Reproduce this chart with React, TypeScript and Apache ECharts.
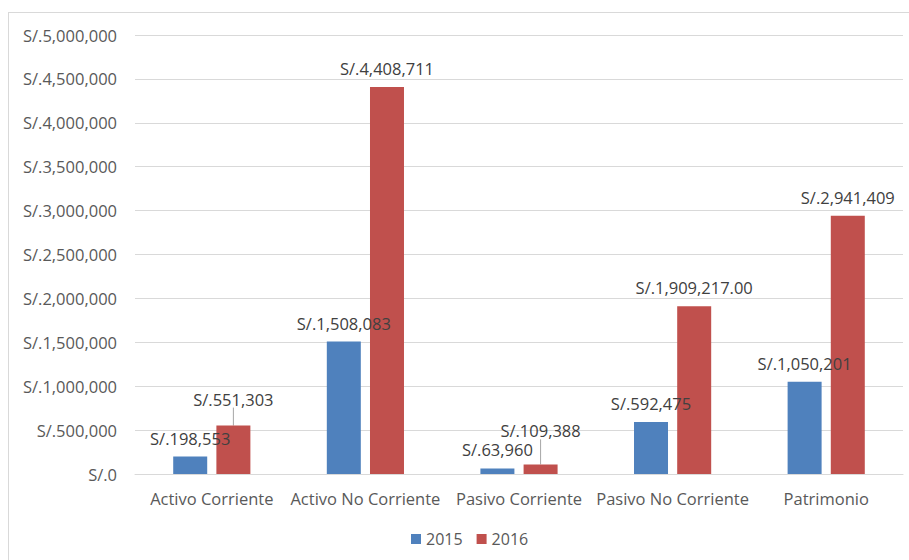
import React, { useEffect, useRef } from "react";
import * as echarts from "echarts";

const categories = ["Activo Corriente", "Activo No Corriente", "Pasivo Corriente", "Pasivo No Corriente", "Patrimonio"];
const seriesNames = ["2015", "2016"];
const values2015 = [198553, 1508083, 63960, 592475, 1050201];
const values2016 = [551303, 4408711, 109388, 1909217, 2941409];
const decimals2015 = [0, 0, 0, 0, 0];
const decimals2016 = [0, 0, 0, 2, 0];
const yTicks = { min: 0, max: 5000000, interval: 500000 };

// label layout tweaks (pixel shifts for labels that Excel pushed up with leader lines)
const labelShift2016 = [-8, 0, -15, 0, 0];

const FONT = "'Open Sans', 'Noto Sans', sans-serif";

function fmt(v: number, dec: number) {
  return "S/." + v.toLocaleString("en-US", { minimumFractionDigits: dec, maximumFractionDigits: dec });
}

export default function App() {
  const ref = useRef<HTMLDivElement>(null);
  useEffect(() => {
    if (!ref.current) return;
    const chart = echarts.init(ref.current, undefined, { renderer: "svg" });
    const labelBase = {
      show: true,
      position: "top",
      distance: 10,
      color: "#404040",
      fontSize: 16.5,
      fontFamily: FONT,
    };
    const data2016 = values2016.map((v, i) => ({
      value: v,
      labelLine: { show: labelShift2016[i] !== 0 },
    }));
    chart.setOption({
      animation: false,
      backgroundColor: "#ffffff",
      textStyle: { fontFamily: FONT },
      graphic: [
        { type: "line", shape: { x1: 8, y1: 12.5, x2: 909, y2: 12.5 }, style: { stroke: "#d9d9d9", lineWidth: 1 } },
        { type: "line", shape: { x1: 8.5, y1: 12, x2: 8.5, y2: 560 }, style: { stroke: "#d9d9d9", lineWidth: 1 } },
      ],
      grid: { left: 135, right: 6, top: 35, bottom: 86, containLabel: false },
      legend: {
        data: seriesNames,
        left: 406,
        top: 526,
        icon: "rect",
        itemWidth: 10,
        itemHeight: 10,
        itemGap: 14,
        textStyle: { color: "#595959", fontSize: 16, fontFamily: FONT },
      },
      xAxis: {
        type: "category",
        data: categories,
        axisLine: { show: true, lineStyle: { color: "#d9d9d9" } },
        axisTick: { show: false },
        axisLabel: { color: "#595959", fontSize: 16.5, fontFamily: FONT, margin: 16, interval: 0 },
      },
      yAxis: {
        type: "value",
        min: yTicks.min,
        max: yTicks.max,
        interval: yTicks.interval,
        axisLine: { show: false },
        axisTick: { show: false },
        splitLine: { lineStyle: { color: "#d9d9d9" } },
        axisLabel: {
          color: "#595959",
          fontSize: 16.5,
          fontFamily: FONT,
          margin: 18,
          formatter: (v: number) => "S/." + v.toLocaleString("en-US"),
        },
      },
      series: [
        {
          name: seriesNames[0],
          type: "bar",
          data: values2015,
          barWidth: 34,
          barGap: "27%",
          itemStyle: { color: "#4f81bd" },
          label: { ...labelBase, formatter: (p: any) => fmt(p.value, decimals2015[p.dataIndex]) },
        },
        {
          name: seriesNames[1],
          type: "bar",
          data: data2016,
          barWidth: 34,
          barGap: "27%",
          itemStyle: { color: "#c0504d" },
          label: { ...labelBase, formatter: (p: any) => fmt(p.value, decimals2016[p.dataIndex]) },
          labelLine: { show: false, lineStyle: { color: "#a6a6a6", width: 1 } },
          labelLayout: (p: any) => ({ dy: labelShift2016[p.dataIndex] }),
        },
      ],
    });
    return () => chart.dispose();
  }, []);
  return (
    <div
      ref={ref}
      style={{ position: "fixed", left: 0, top: 0, width: 909, height: 560, background: "#fff" }}
    />
  );
}
